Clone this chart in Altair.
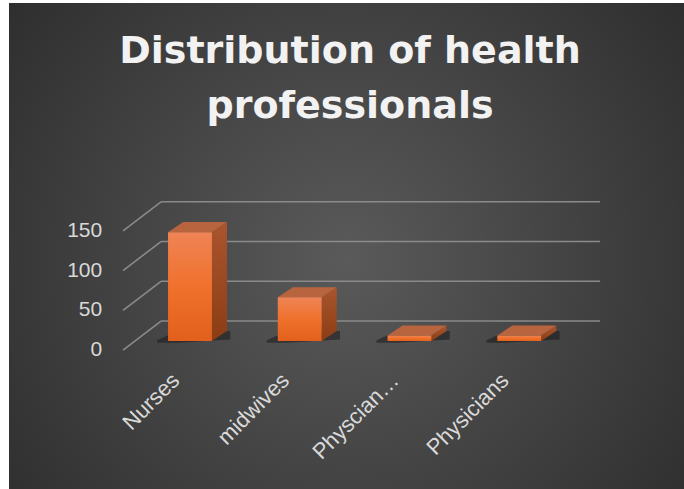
import altair as alt
import pandas as pd

# ---------------- data ----------------
categories = ["Nurses", "midwives", "Physcian…", "Physicians"]
values = [137, 55, 7, 7]
ticks = [0, 50, 100, 150]
title_lines = ["Distribution of health", "professionals"]

# ---------------- layout constants (data units) ----------------
X_DOMAIN = [-1.467, 4.765]      # category slots
Y_DOMAIN = [-211.3, 403.8]      # value units
FRONT_DX, FRONT_DY = -0.346, -36.5   # front plane offset vs back wall
BAR_X0, BAR_W = 0.064, 0.40
DEPTH_X, DEPTH_Y = 0.137, 12.6
BASE = -25.2
LABEL_SHIFT, LABEL_Y = -0.13, -70.4
VLABEL_GAP = 0.19

xs = alt.Scale(domain=X_DOMAIN, nice=False, zero=False)
ys = alt.Scale(domain=Y_DOMAIN, nice=False, zero=False)

def X(f):
    return alt.X(f, type="quantitative", scale=xs, axis=None)

def Y(f):
    return alt.Y(f, type="quantitative", scale=ys, axis=None, stack=None)

# bars
front_rows, side_rows, top_rows, shadow_rows, cat_rows = [], [], [], [], []
for i, (c, v) in enumerate(zip(categories, values)):
    x0 = i + BAR_X0
    x1 = x0 + BAR_W
    top = BASE + v
    front_rows.append(dict(cat=c, x=x0, x2=x1, y=BASE, y2=top))
    side_rows += [dict(cat=c, x=x1, y=BASE, y2=top),
                  dict(cat=c, x=x1 + DEPTH_X, y=BASE + DEPTH_Y, y2=top + DEPTH_Y)]
    top_rows += [dict(cat=c, x=x0, y=top, y2=top),
                 dict(cat=c, x=x0 + DEPTH_X, y=top, y2=top + DEPTH_Y),
                 dict(cat=c, x=x1, y=top, y2=top + DEPTH_Y),
                 dict(cat=c, x=x1 + DEPTH_X, y=top + DEPTH_Y, y2=top + DEPTH_Y)]
    shadow_rows += [dict(cat=c, x=x0 - 0.10, y=BASE - 2, y2=BASE + 1),
                    dict(cat=c, x=x0 + DEPTH_X - 0.05, y=BASE - 2, y2=BASE + DEPTH_Y),
                    dict(cat=c, x=x1 + DEPTH_X + 0.03, y=BASE + 2, y2=BASE + DEPTH_Y)]
    cat_rows.append(dict(cat=c, x=x0 + BAR_W / 2 + LABEL_SHIFT, y=LABEL_Y))

front_df = pd.DataFrame(front_rows)
side_df = pd.DataFrame(side_rows)
top_df = pd.DataFrame(top_rows)
shadow_df = pd.DataFrame(shadow_rows)
cat_df = pd.DataFrame(cat_rows)

n = len(categories)
back_grid = pd.DataFrame({"x": [0] * len(ticks), "x2": [n] * len(ticks), "y": ticks})
diag_grid = pd.DataFrame({"x": [FRONT_DX] * len(ticks), "x2": [0] * len(ticks),
                          "y": [t + FRONT_DY for t in ticks], "y2": ticks})
vlab = pd.DataFrame({"x": [FRONT_DX - VLABEL_GAP] * len(ticks),
                     "y": [t + FRONT_DY for t in ticks], "t": [str(t) for t in ticks]})

one = pd.DataFrame({"a": [0]})

bg = alt.Chart(one).mark_rect(
    fill=alt.RadialGradient(
        gradient="radial", x1=0.5, y1=0.52, r1=0, x2=0.5, y2=0.52, r2=0.75,
        stops=[alt.GradientStop(color="#5a5a5a", offset=0),
               alt.GradientStop(color="#262626", offset=1)])
).encode(x=alt.value(9), x2=alt.value(684), y=alt.value(3), y2=alt.value(489))

grid_col = "#8a8a8a"
g1 = alt.Chart(back_grid).mark_rule(color=grid_col, strokeWidth=1.6).encode(
    x=X("x"), x2="x2", y=Y("y"))
g2 = alt.Chart(diag_grid).mark_rule(color=grid_col, strokeWidth=1.6).encode(
    x=X("x"), x2="x2", y=Y("y"), y2="y2")

shadow = alt.Chart(shadow_df).mark_area(color="#151515", opacity=0.5).encode(
    x=X("x"), y=Y("y"), y2="y2", detail="cat:N")

side = alt.Chart(side_df).mark_area(
    color=alt.LinearGradient(gradient="linear", x1=0, y1=0, x2=0, y2=1,
                             stops=[alt.GradientStop(color="#a9552e", offset=0),
                                    alt.GradientStop(color="#8c3d14", offset=1)])
).encode(x=X("x"), y=Y("y"), y2="y2", detail="cat:N")

topf = alt.Chart(top_df).mark_area(color="#b8643f").encode(
    x=X("x"), y=Y("y"), y2="y2", detail="cat:N")

front = alt.Chart(front_df).mark_rect(
    color=alt.LinearGradient(gradient="linear", x1=0, y1=0, x2=0, y2=1,
                             stops=[alt.GradientStop(color="#ef8456", offset=0),
                                    alt.GradientStop(color="#f0712c", offset=0.5),
                                    alt.GradientStop(color="#e0601c", offset=1)])
).encode(x=X("x"), x2="x2", y=Y("y"), y2="y2")

vlabels = alt.Chart(vlab).mark_text(
    align="right", baseline="middle", font="Liberation Sans", fontSize=21, color="#d9d9d9"
).encode(x=X("x"), y=Y("y"), text="t:N")

clabels = alt.Chart(cat_df).mark_text(
    align="right", baseline="middle", angle=315, font="Liberation Sans", fontSize=22,
    color="#d9d9d9"
).encode(x=X("x"), y=Y("y"), text="cat:N")

title = alt.Chart(one).mark_text(
    text=title_lines, font="DejaVu Sans", fontWeight="bold", fontSize=38,
    lineHeight=55, align="center", baseline="alphabetic", color="#f2f2f2"
).encode(x=alt.value(350), y=alt.value(63))

chart = alt.layer(
    bg, g1, g2, shadow, side, topf, front, vlabels, clabels, title
).properties(
    width=684, height=489, padding=0,
    autosize=alt.AutoSizeParams(type="none"),
    background="white"
).configure_view(stroke=None)

chart.save("out.html", embed_options={"renderer": "svg", "actions": False})
